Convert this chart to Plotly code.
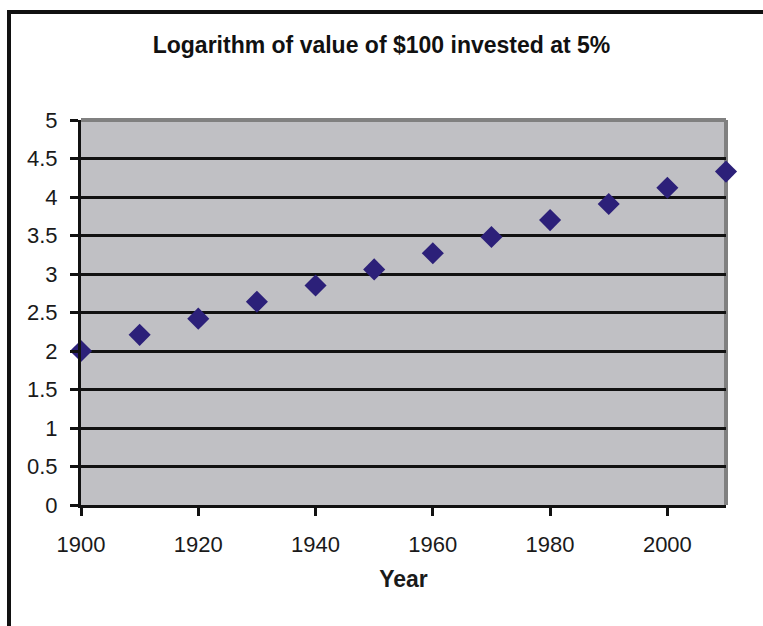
import plotly.graph_objects as go

# Year and log10 of the value of $100 growing at 5% a year
years = [1900, 1910, 1920, 1930, 1940, 1950, 1960, 1970, 1980, 1990, 2000, 2010]
log_values = [2.00, 2.21, 2.42, 2.64, 2.85, 3.06, 3.27, 3.48, 3.70, 3.91, 4.12, 4.33]

y_tick_vals = [0, 0.5, 1, 1.5, 2, 2.5, 3, 3.5, 4, 4.5, 5]
y_tick_text = ["0", "0.5", "1", "1.5", "2", "2.5", "3", "3.5", "4", "4.5", "5"]
x_tick_vals = [1900, 1920, 1940, 1960, 1980, 2000]
x_tick_text = ["1900", "1920", "1940", "1960", "1980", "2000"]

W, H = 763, 626
L, R, T, B = 81, 37, 120, 121
pw, ph = W - L - R, H - T - B

def px_x(x):
    return (x - L) / pw

def px_y(y):
    return (H - B - y) / ph

fig = go.Figure()
fig.add_trace(go.Scatter(
    x=years, y=log_values, mode="markers",
    marker=dict(symbol="diamond", size=17, color="#2C2079",
                line=dict(width=0)),
    cliponaxis=False, showlegend=False,
))

font_family = "Liberation Sans, Arial, sans-serif"

fig.update_layout(
    width=W, height=H,
    margin=dict(l=L, r=R, t=T, b=B),
    paper_bgcolor="white",
    plot_bgcolor="#C0C0C4",
    font=dict(family=font_family, color="#1a1a1a", size=22),
    title=dict(text="<b>Logarithm of value of $100 invested at 5%</b>",
               x=0.5, xanchor="center", y=1 - 45 / H, yanchor="middle",
               font=dict(size=23, family=font_family, color="#111")),
    xaxis=dict(range=[1900, 2010], tickvals=x_tick_vals, ticktext=x_tick_text,
               showgrid=False, zeroline=False,
               showline=True, linecolor="#111", linewidth=3,
               ticks="outside", ticklen=8, tickwidth=3, tickcolor="#111",
               ticklabelstandoff=10,
               tickfont=dict(size=22),
               title=dict(text="<b>Year</b>", font=dict(size=23), standoff=15)),
    yaxis=dict(range=[0, 5], tickvals=y_tick_vals, ticktext=y_tick_text,
               showgrid=True, gridcolor="#111", gridwidth=3,
               zeroline=False,
               showline=True, linecolor="#111", linewidth=3,
               ticks="outside", ticklen=8, tickwidth=3, tickcolor="#111",
               ticklabelstandoff=8,
               tickfont=dict(size=22)),
)

# gray top and right edges of the plotting area
fig.add_shape(type="line", xref="paper", yref="paper", x0=0, x1=1, y0=1, y1=1,
              line=dict(color="#808080", width=4), layer="between")
fig.add_shape(type="line", xref="paper", yref="paper", x0=1, x1=1, y0=0, y1=1,
              line=dict(color="#808080", width=4), layer="between")

# outer chart frame (left and top edges visible)
fig.add_shape(type="line", xref="paper", yref="paper",
              x0=px_x(9), x1=px_x(9), y0=px_y(10), y1=px_y(H + 10),
              line=dict(color="#111", width=4), layer="above")
fig.add_shape(type="line", xref="paper", yref="paper",
              x0=px_x(7), x1=px_x(W + 10), y0=px_y(12), y1=px_y(12),
              line=dict(color="#111", width=4), layer="above")

fig.write_html("out.html")
